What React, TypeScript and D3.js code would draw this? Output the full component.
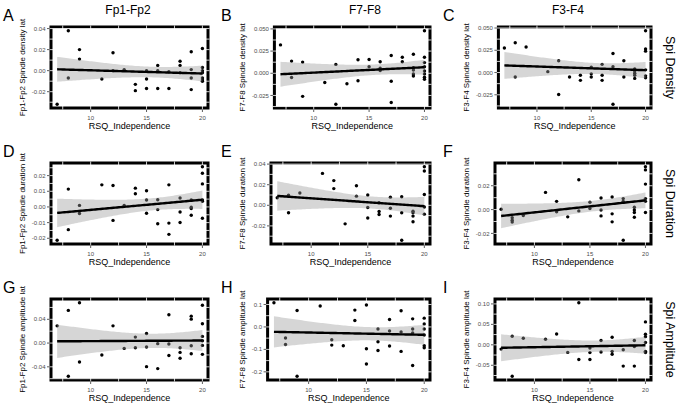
import React from "react";
import * as d3 from "d3";

// column / row labels
const channels = ["Fp1-Fp2", "F7-F8", "F3-F4"];
const measures = ["Spi Density", "Spi Duration", "Spi Amplitude"];
const measureWords = ["density", "duration", "amplitude"];
const letters = ["A", "B", "C", "D", "E", "F", "G", "H", "I"];
const xTicks = [10, 15, 20];

// [RSQ_Independence, lateralisation]
const densFp: [number, number][] = [
  [7, -0.032], [8, 0.038], [8, -0.007], [9, 0.02], [9, 0.011], [11, -0.008], [12, 0.017], [12, 0.0],
  [13, 0.001], [14, -0.013], [14, -0.019], [15, 0.0], [15, -0.008], [15, -0.017], [16, 0.005], [16, 0.0],
  [16, -0.017], [17, -0.017], [17, -0.001], [18, 0.009], [18, 0.005], [18, -0.002], [19, 0.018], [19, 0.001],
  [19, -0.007], [19, -0.018], [20, 0.021], [20, 0.003], [20, 0.0], [20, -0.002], [20, -0.007], [20, -0.009], [20, -0.01],
];
const densF7: [number, number][] = [
  [7, 0.032], [8, 0.0137], [8, -0.0048], [9, 0.0126], [9, -0.026], [11, -0.0104], [12, 0.01], [12, -0.035],
  [13, -0.0119], [14, 0.0152], [14, -0.0085], [15, 0.0156], [15, 0.0074], [16, 0.013], [16, 0.0056], [16, 0.003],
  [17, 0.02], [17, -0.009], [17, -0.033], [18, 0.018], [18, 0.013], [19, 0.0215], [19, 0.0063], [19, 0.0037],
  [19, -0.0007], [19, -0.003], [20, 0.048], [20, 0.018], [20, 0.012], [20, 0.0074], [20, 0.0026], [20, -0.0007],
  [20, -0.0044], [20, -0.0067],
];
const densF3: [number, number][] = [
  [7, 0.0276], [8, 0.0335], [8, -0.005], [9, 0.0287], [11, 0.001], [12, 0.0132], [12, -0.0246], [13, -0.005],
  [14, -0.003], [14, -0.0088], [15, 0.0059], [15, -0.0015], [15, -0.005], [16, 0.0092], [16, -0.003], [16, -0.0088],
  [17, 0.0213], [17, 0.0066], [17, -0.0357], [18, 0.0132], [18, -0.005], [19, 0.004], [19, 0.0018], [19, -0.0007],
  [19, -0.003], [19, -0.0066], [20, 0.047], [20, 0.0265], [20, 0.024], [20, 0.003], [20, -0.0037], [20, -0.006],
];
const durFp: [number, number][] = [
  [7, -0.0213], [8, 0.0114], [8, -0.0145], [9, 0.001], [9, -0.0042], [11, 0.0141], [12, 0.0137], [12, -0.0086],
  [13, 0.001], [14, 0.012], [14, 0.0084], [15, 0.0103], [15, 0.0044], [15, -0.004], [16, 0.0046], [16, -0.0017],
  [16, -0.0107], [17, 0.0141], [17, -0.0103], [17, -0.0175], [18, 0.0057], [18, -0.0032], [18, -0.0099], [19, 0.0044],
  [19, -0.0002], [19, -0.001], [19, -0.0053], [20, 0.0257], [20, 0.0215], [20, 0.0147], [20, 0.0044], [20, 0.0036], [20, -0.0072],
];
const durF7: [number, number][] = [
  [7, 0.0073], [8, 0.0098], [8, -0.0073], [9, 0.012], [11, 0.031], [12, 0.024], [12, 0.0162], [13, -0.018],
  [14, 0.019], [14, 0.0089], [15, 0.01], [15, -0.0022], [15, -0.0124], [16, 0.0025], [16, -0.006], [16, -0.0089],
  [17, 0.0079], [17, -0.0029], [17, -0.0105], [18, 0.0083], [18, -0.0073], [18, -0.034], [19, -0.0057], [19, -0.0073],
  [19, -0.0105], [19, -0.0159], [20, 0.0375], [20, 0.0333], [20, 0.0105], [20, -0.0016], [20, -0.0086],
];
const durF3: [number, number][] = [
  [7, 0.0003], [8, -0.0069], [8, -0.0089], [8, -0.0105], [9, -0.005], [11, 0.0144], [12, 0.0069], [12, -0.0019],
  [13, -0.0061], [14, 0.025], [14, -0.0011], [15, 0.0061], [15, 0.0008], [16, 0.0097], [16, -0.0003], [16, -0.0053],
  [17, 0.0106], [17, -0.0036], [17, -0.0103], [18, 0.0092], [18, 0.0069], [18, -0.0258], [19, 0.0019], [19, -0.0003],
  [19, -0.0025], [19, -0.0064], [20, 0.036], [20, 0.0333], [20, 0.0214], [20, 0.0092], [20, 0.0069], [20, -0.0025],
];
const ampFp: [number, number][] = [
  [7, 0.029], [8, 0.055], [8, -0.056], [9, 0.068], [9, -0.032], [11, -0.02], [12, 0.029], [13, -0.009],
  [14, 0.01], [14, -0.008], [15, 0.016], [15, -0.0067], [15, -0.0397], [16, -0.001], [16, -0.043], [17, 0.0476],
  [17, -0.0017], [17, -0.021], [18, -0.0078], [18, -0.0157], [18, -0.0257], [19, 0.0453], [19, 0.0403], [19, -0.0045],
  [19, -0.0179], [20, 0.0638], [20, 0.0324], [20, 0.0112], [20, 0.0039], [20, -0.0039], [20, -0.019],
];
const ampF7: [number, number][] = [
  [7, 0.108], [8, -0.049], [8, -0.078], [9, 0.0735], [9, -0.22], [11, 0.093], [12, -0.057], [12, -0.081],
  [13, -0.084], [14, 0.075], [14, 0.0285], [15, 0.0975], [15, -0.0975], [15, -0.165], [16, -0.009], [16, -0.066],
  [16, -0.105], [17, 0.033], [17, -0.018], [17, -0.085], [18, 0.072], [18, -0.0225], [18, -0.109], [19, 0.036],
  [19, -0.009], [19, -0.027], [19, -0.172], [20, 0.039], [20, 0.0135], [20, -0.009], [20, -0.036], [20, -0.084], [20, -0.093],
];
const ampF3: [number, number][] = [
  [7, -0.0105], [8, 0.021], [8, -0.077], [9, 0.016], [11, 0.0137], [12, 0.0266], [13, -0.0185], [14, 0.103],
  [14, -0.036], [15, -0.008], [15, -0.019], [15, -0.036], [16, 0.0105], [16, -0.0177], [17, 0.0185], [17, -0.016],
  [17, -0.023], [18, -0.012], [18, -0.052], [19, 0.0105], [19, -0.004], [19, -0.052], [20, 0.056], [20, 0.026],
  [20, 0.02], [20, 0.0056], [20, -0.016], [20, -0.019],
];

// y tick values per panel
const ticksDensFp = [-0.02, 0, 0.02, 0.04];
const ticksDensF = [-0.025, 0, 0.025, 0.05];
const ticksDurFp = [-0.02, -0.01, 0, 0.01, 0.02];
const ticksDurF7 = [-0.02, 0, 0.02, 0.04];
const ticksDurF3 = [-0.02, 0, 0.02];
const ticksAmpFp = [-0.04, 0, 0.04];
const ticksAmpF7 = [-0.2, -0.1, 0, 0.1];
const ticksAmpF3 = [-0.05, 0, 0.05, 0.1];

const panels = [
  { data: densFp, ticks: ticksDensFp, digits: 2 },
  { data: densF7, ticks: ticksDensF, digits: 3 },
  { data: densF3, ticks: ticksDensF, digits: 3 },
  { data: durFp, ticks: ticksDurFp, digits: 2 },
  { data: durF7, ticks: ticksDurF7, digits: 2 },
  { data: durF3, ticks: ticksDurF3, digits: 2 },
  { data: ampFp, ticks: ticksAmpFp, digits: 2 },
  { data: ampF7, ticks: ticksAmpF7, digits: 1 },
  { data: ampF3, ticks: ticksAmpF3, digits: 2 },
];

const W = 676;
const H = 406;
const FONT = "'Liberation Sans', Arial, Helvetica, sans-serif";
const titleX = [22, 242, 466];
const panelRight = [208, 430, 651];
const rowTop = [27, 163, 299];
const panelH = 81;
const colTitleX = [128, 365, 568];
const letterX = [3, 221, 443];
const xDomain: [number, number] = [6.45, 20.5];

// linear fit with 95% confidence band, like geom_smooth(method = "lm")
function fitLm(data: [number, number][]) {
  const n = data.length;
  const mx = d3.mean(data, (d) => d[0]) as number;
  const my = d3.mean(data, (d) => d[1]) as number;
  let sxx = 0;
  let sxy = 0;
  data.forEach(([x, y]) => {
    sxx += (x - mx) ** 2;
    sxy += (x - mx) * (y - my);
  });
  const b = sxy / sxx;
  const a = my - b * mx;
  let sse = 0;
  data.forEach(([x, y]) => (sse += (y - a - b * x) ** 2));
  const s = Math.sqrt(sse / (n - 2));
  const df = n - 2;
  const z = 1.959964;
  const t = z + (z ** 3 + z) / (4 * df) + (5 * z ** 5 + 16 * z ** 3 + 3 * z) / (96 * df * df);
  const [x0, x1] = d3.extent(data, (d) => d[0]) as [number, number];
  const grid = d3.range(0, 81).map((i) => x0 + ((x1 - x0) * i) / 80);
  return grid.map((x) => {
    const fit = a + b * x;
    const se = s * Math.sqrt(1 / n + (x - mx) ** 2 / sxx);
    return { x, fit, lo: fit - t * se, hi: fit + t * se };
  });
}

function Panel({ idx }: { idx: number }) {
  const p = panels[idx];
  const col = idx % 3;
  const row = Math.floor(idx / 3);
  const labels = p.ticks.map((v) => v.toFixed(p.digits));
  const maxChars = d3.max(labels, (l) => l.length) as number;
  const left = titleX[col] + 12 + maxChars * 3.4;
  const right = panelRight[col];
  const top = rowTop[row];
  const bottom = top + panelH;

  const band = fitLm(p.data);
  const lo = Math.min(d3.min(p.data, (d) => d[1]) as number, d3.min(band, (d) => d.lo) as number);
  const hi = Math.max(d3.max(p.data, (d) => d[1]) as number, d3.max(band, (d) => d.hi) as number);
  const pad = (hi - lo) * 0.05;

  const x = d3.scaleLinear().domain(xDomain).range([left, right]);
  const y = d3.scaleLinear().domain([lo - pad, hi + pad]).range([bottom, top]);

  const area = d3
    .area<{ x: number; lo: number; hi: number }>()
    .x((d) => x(d.x))
    .y0((d) => y(d.lo))
    .y1((d) => y(d.hi));
  const line = d3
    .line<{ x: number; fit: number }>()
    .x((d) => x(d.x))
    .y((d) => y(d.fit));

  // white grid lines (major + minor) only show where they cross the thick frame
  const xStep = xTicks[1] - xTicks[0];
  const xGrid = d3.range(xTicks[0] - xStep, xTicks[2] + xStep, xStep / 2).filter((v) => v > xDomain[0] && v < xDomain[1]);
  const yStep = p.ticks[1] - p.ticks[0];
  const yGrid = d3
    .range(p.ticks[0] - yStep, p.ticks[p.ticks.length - 1] + yStep * 1.01, yStep / 2)
    .filter((v) => v > y.domain()[0] && v < y.domain()[1]);

  const cy = (top + bottom) / 2;
  const yTitle = `${channels[col]} Spindle ${measureWords[row]} lat`;

  return (
    <g>
      <text x={letterX[col]} y={top - 6} fontSize={16} fontFamily={FONT}>
        {letters[idx]}
      </text>
      <rect x={left} y={top} width={right - left} height={bottom - top} fill="white" stroke="black" strokeWidth={3} />
      {xGrid.map((v) => (
        <line key={"gx" + v} x1={x(v)} x2={x(v)} y1={top - 1.5} y2={bottom + 1.5} stroke="white" strokeWidth={0.8} />
      ))}
      {yGrid.map((v) => (
        <line key={"gy" + v} x1={left - 1.5} x2={right + 1.5} y1={y(v)} y2={y(v)} stroke="white" strokeWidth={0.8} />
      ))}
      {p.data.map((d, i) => (
        <circle key={i} cx={x(d[0])} cy={y(d[1])} r={1.7} fill="black" />
      ))}
      <path d={area(band) ?? ""} fill="#999999" fillOpacity={0.4} />
      <path d={line(band) ?? ""} fill="none" stroke="black" strokeWidth={2.4} />
      {xTicks.map((v) => (
        <g key={"xt" + v}>
          <line x1={x(v)} x2={x(v)} y1={bottom + 1.5} y2={bottom + 4} stroke="#333" strokeWidth={0.8} />
          <text x={x(v)} y={bottom + 11.5} fontSize={6} fill="#4d4d4d" textAnchor="middle" fontFamily={FONT}>
            {v}
          </text>
        </g>
      ))}
      {p.ticks.map((v, i) => (
        <g key={"yt" + v}>
          <line x1={left - 4} x2={left - 1.5} y1={y(v)} y2={y(v)} stroke="#333" strokeWidth={0.8} />
          <text x={left - 5.5} y={y(v)} dy="0.35em" fontSize={6} fill="#4d4d4d" textAnchor="end" fontFamily={FONT}>
            {labels[i]}
          </text>
        </g>
      ))}
      <text x={(left + right) / 2} y={bottom + 21} fontSize={9} textAnchor="middle" fontFamily={FONT}>
        RSQ_Independence
      </text>
      <text
        transform={`translate(${titleX[col]},${cy}) rotate(-90)`}
        dy="0.35em"
        fontSize={8}
        textAnchor="middle"
        fontFamily={FONT}
      >
        {yTitle}
      </text>
      {col === 2 && (
        <text
          transform={`translate(670,${cy}) rotate(90)`}
          dy="0.35em"
          fontSize={12.5}
          textAnchor="middle"
          fontFamily={FONT}
        >
          {measures[row]}
        </text>
      )}
    </g>
  );
}

export default function App() {
  return (
    <svg width={W} height={H} style={{ position: "absolute", left: 0, top: 0, background: "white" }}>
      <rect width={W} height={H} fill="white" />
      {channels.map((c, i) => (
        <text key={c} x={colTitleX[i]} y={14} fontSize={12} textAnchor="middle" fontFamily={FONT}>
          {c}
        </text>
      ))}
      {panels.map((_, i) => (
        <Panel key={i} idx={i} />
      ))}
    </svg>
  );
}
